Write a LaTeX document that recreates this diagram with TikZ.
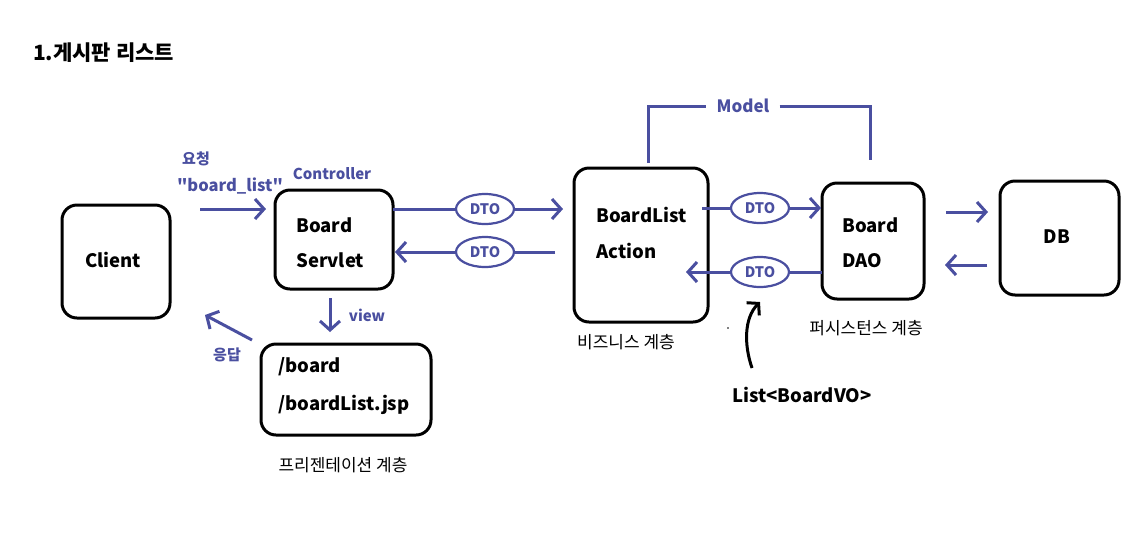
\documentclass[tikz,border=0pt]{standalone}
\usepackage{fontspec}
\newfontfamily\kfont{Noto Sans CJK KR}
\usetikzlibrary{arrows.meta,shapes.geometric}
\definecolor{ink}{HTML}{4A4FA0}
\begin{document}
\begin{tikzpicture}[x=1pt,y=-1pt,
 every node/.append style={font=\kfont},
 box/.style={draw=black,line width=3pt,rounded corners=15pt,inner sep=0pt},
 dto/.style={draw=ink,line width=2.2pt,ellipse,minimum width=58pt,minimum height=30pt,inner sep=0pt,text=ink,font=\kfont\bfseries\fontsize{14.5}{16}\selectfont},
 conn/.style={draw=ink,line width=3pt},
 arr/.style={conn,-{Straight Barb[length=9pt,width=20pt,line width=3pt]}},
 lbl/.style={text=ink,font=\kfont\bfseries\fontsize{15}{17}\selectfont,inner sep=0pt},
 big/.style={font=\kfont\bfseries\fontsize{18.5}{22}\selectfont,inner sep=0pt,anchor=west},
 kor/.style={font=\kfont\fontsize{17}{19}\selectfont,inner sep=0pt}]
\useasboundingbox[fill=white] (0,0) rectangle (1141,542);

% title
\node[big,anchor=west,font=\kfont\bfseries\fontsize{21}{24}\selectfont] (title) at (33,53) {1.게시판 리스트};

% boxes
\node[box,minimum width=108pt,minimum height=113pt] (client) at (116,261.5) {};
\node[box,minimum width=118pt,minimum height=99pt] (srv) at (334,239.5) {};
\node[box,minimum width=170pt,minimum height=91pt] (jsp) at (346,389.5) {};
\node[box,minimum width=134pt,minimum height=154pt] (act) at (641,245) {};
\node[box,minimum width=102pt,minimum height=116pt] (dao) at (873,241) {};
\node[box,minimum width=119pt,minimum height=114pt] (db) at (1059.5,238) {};

% box texts
\node[big,anchor=center] (tclient) at (113,260) {Client};
\node[big] (tsrv1) at (296,225) {Board};
\node[big] (tsrv2) at (296,260) {Servlet};
\node[big] (tjsp1) at (278,367) {/board};
\node[big] (tjsp2) at (278,405) {/boardList.jsp};
\node[big] (tact1) at (596,215) {BoardList};
\node[big] (tact2) at (596,251) {Action};
\node[big] (tdao1) at (842,225) {Board};
\node[big] (tdao2) at (842,261) {DAO};
\node[big,anchor=center] (tdb) at (1057,237) {DB};

% blue labels
\node[lbl] (req1) at (196,159) {요청};
\node[lbl,font=\kfont\bfseries\fontsize{16.5}{18}\selectfont] (req2) at (230,186) {"board\_list"};
\node[lbl] (ctrl) at (332,174) {Controller};
\node[lbl] (view) at (367,315) {view};
\node[lbl] (resp) at (227,355) {응답};
\node[lbl,font=\kfont\bfseries\fontsize{17}{19}\selectfont] (model) at (743,106) {Model};

% layer labels
\node[kor] (l1) at (343,465) {프리젠테이션 계층};
\node[kor] (l2) at (626,342) {비즈니스 계층};
\node[kor] (l3) at (866,328) {퍼시스턴스 계층};
\node[inner sep=0pt,font=\kfont\bfseries\fontsize{18.5}{20}\selectfont] (vo) at (802,395) {List<BoardVO>};

% DTO ellipses
\node[dto] (d1) at (485,209) {DTO};
\node[dto] (d2) at (485,252) {DTO};
\node[dto] (d3) at (760,208) {DTO};
\node[dto] (d4) at (760,272) {DTO};

% coordinates for free arrow ends
\coordinate (reqS) at (200,209);
\coordinate (reqE) at (266,209);
\coordinate (respS) at (252,340);
\coordinate (respE) at (205,315);
\coordinate (viewS) at (330,298);
\coordinate (viewE) at (330,332);
\coordinate (a1S) at (393,209);
\coordinate (a1E) at (563,209);
\coordinate (a2S) at (555,252);
\coordinate (a2E) at (395,252);
\coordinate (a3S) at (702,208);
\coordinate (a3E) at (821,208);
\coordinate (a4S) at (822,272);
\coordinate (a4E) at (686,272);
\coordinate (dbS) at (946,212);
\coordinate (dbE) at (988,212);
\coordinate (dbS2) at (987,265);
\coordinate (dbE2) at (945,265);
\coordinate (m1) at (648,163);
\coordinate (m2) at (870,160);
\coordinate (voS) at (752,368);
\coordinate (voE) at (760,302);

% arrows
\draw[arr] (reqS) -- (reqE);
\draw[arr] (respS) -- (respE);
\draw[arr] (viewS) -- (viewE);
\draw[conn] (a1S) -- (d1.west);
\draw[arr] (d1.east) -- (a1E);
\draw[conn] (a2S) -- (d2.east);
\draw[arr] (d2.west) -- (a2E);
\draw[conn] (a3S) -- (d3.west);
\draw[arr] (d3.east) -- (a3E);
\draw[conn] (a4S) -- (d4.east);
\draw[arr] (d4.west) -- (a4E);
\draw[arr] (dbS) -- (dbE);
\draw[arr] (dbS2) -- (dbE2);

% Model bracket
\draw[conn] (m1) |- ([xshift=-10pt]model.west);
\draw[conn] ([xshift=10pt]model.east) -| (m2);

% List<BoardVO> arrow
\draw[line width=3pt,-{Straight Barb[length=8pt,width=18pt,line width=3pt]}] (voS) .. controls (744,345) and (744,318) .. (voE);
\fill (728,328) circle (0.8pt);
\end{tikzpicture}
\end{document}
